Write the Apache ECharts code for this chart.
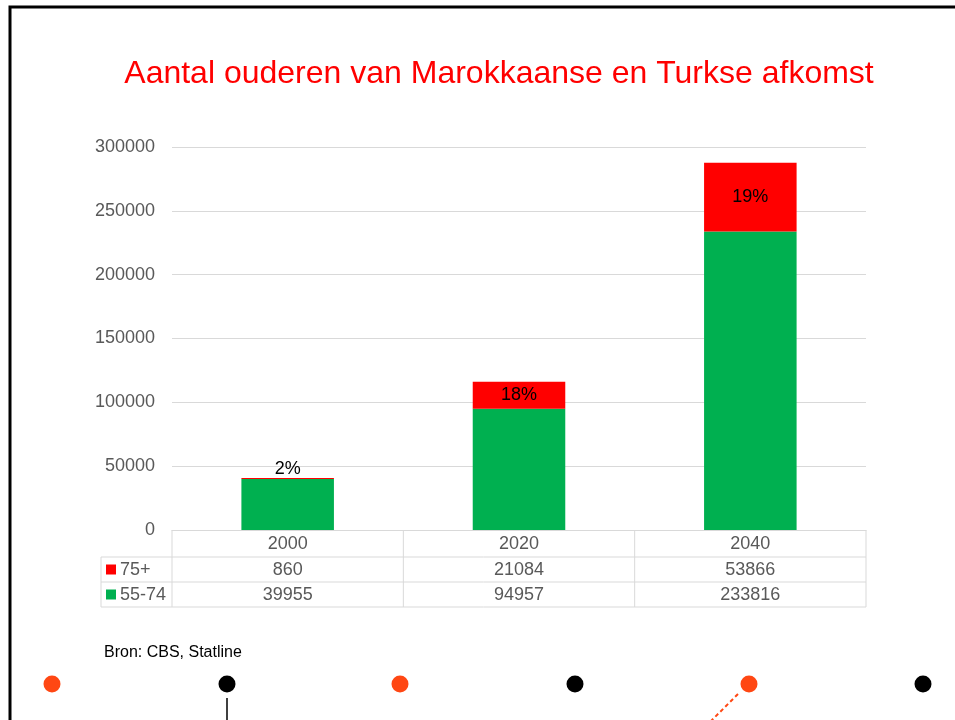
<!DOCTYPE html>
<html>
<head>
<meta charset="utf-8">
<script src="https://cdn.jsdelivr.net/npm/echarts@6/dist/echarts.min.js"></script>
<style>
  html, body { margin: 0; padding: 0; background: #fff; }
  #chart { width: 955px; height: 720px; }
</style>
</head>
<body>
<div id="chart"></div>
<script>
var years = ['2000', '2020', '2040'];
var old75 = [860, 21084, 53866];
var mid5574 = [39955, 94957, 233816];
var seriesNames = ['75+', '55-74'];
var yTicks = [0, 50000, 100000, 150000, 200000, 250000, 300000];

var font = 'Liberation Sans, Arial, sans-serif';
var gridLeft = 172, gridRight = 89, gridTop = 147, gridBottom = 190;

var pctData = old75.map(function (v, i) {
    var total = v + mid5574[i];
    var share = v / total;
    return {
        value: v,
        label: {
            position: share < 0.05 ? 'top' : 'inside',
            formatter: Math.round(share * 100) + '%'
        }
    };
});

var myChart = echarts.init(document.getElementById('chart'));
var option = {
    animation: false,
    title: {
        text: 'Aantal ouderen van Marokkaanse en Turkse afkomst',
        left: 494,
        textAlign: 'center',
        top: 53,
        textStyle: { color: '#ff0000', fontSize: 32, fontWeight: 'normal', fontFamily: font }
    },
    grid: { left: gridLeft, right: gridRight, top: gridTop, bottom: gridBottom },
    xAxis: {
        type: 'category',
        data: years,
        axisLine: { lineStyle: { color: '#d9d9d9' } },
        axisTick: { show: false },
        axisLabel: { show: false }
    },
    yAxis: {
        type: 'value',
        min: yTicks[0],
        max: yTicks[yTicks.length - 1],
        interval: 50000,
        axisLine: { show: false },
        axisTick: { show: false },
        axisLabel: { color: '#595959', fontSize: 18, fontFamily: font, margin: 17, formatter: function (v) { return String(v); } },
        splitLine: { lineStyle: { color: '#d9d9d9' } }
    },
    series: [
        {
            name: seriesNames[1],
            type: 'bar',
            stack: 'a',
            barWidth: '40%',
            itemStyle: { color: '#00b050' },
            data: mid5574
        },
        {
            name: seriesNames[0],
            type: 'bar',
            stack: 'a',
            barWidth: '40%',
            itemStyle: { color: '#ff0000' },
            label: { show: true, color: '#000', fontSize: 18, fontFamily: font, distance: 0 },
            data: pctData
        }
    ]
};
myChart.setOption(option);

// data table under the axis, built from the same arrays
var plotLeft = gridLeft, plotRight = 955 - gridRight;
var baseY = 720 - gridBottom;
var rowH = [27, 25, 25];
var legendLeft = 101;
var lineColor = '#d9d9d9';
var g = [];
function hline(x1, x2, y) {
    g.push({ type: 'line', shape: { x1: x1, y1: y, x2: x2, y2: y }, style: { stroke: lineColor, lineWidth: 1 } });
}
function vline(x, y1, y2) {
    g.push({ type: 'line', shape: { x1: x, y1: y1, x2: x, y2: y2 }, style: { stroke: lineColor, lineWidth: 1 } });
}
var y1 = baseY + rowH[0], y2 = y1 + rowH[1], y3 = y2 + rowH[2];
hline(legendLeft, plotRight, y1);
hline(legendLeft, plotRight, y2);
hline(legendLeft, plotRight, y3);
vline(legendLeft, y1, y3);
var colW = (plotRight - plotLeft) / years.length;
for (var c = 0; c <= years.length; c++) vline(plotLeft + c * colW, baseY, y3);

var rows = [old75, mid5574];
var rowColors = ['#ff0000', '#00b050'];
var rowTops = [y1, y2];
years.forEach(function (yr, i) {
    var cx = myChart.convertToPixel({ xAxisIndex: 0 }, yr);
    g.push({ type: 'text', style: { text: yr, x: cx, y: baseY + rowH[0] / 2 + 1, align: 'center', verticalAlign: 'middle', fill: '#595959', font: '18px ' + font } });
    rows.forEach(function (r, k) {
        g.push({ type: 'text', style: { text: String(r[i]), x: cx, y: rowTops[k] + rowH[k + 1] / 2 + 1, align: 'center', verticalAlign: 'middle', fill: '#595959', font: '18px ' + font } });
    });
});
seriesNames.forEach(function (n, k) {
    var cy = rowTops[k] + rowH[k + 1] / 2;
    g.push({ type: 'rect', shape: { x: 106, y: cy - 5, width: 10, height: 10 }, style: { fill: rowColors[k] } });
    g.push({ type: 'text', style: { text: n, x: 120, y: cy + 1, align: 'left', verticalAlign: 'middle', fill: '#595959', font: '18px ' + font } });
});

// frame, source line and decorative dots
g.push({ type: 'rect', shape: { x: 10, y: 7, width: 960, height: 730 }, style: { fill: null, stroke: '#000', lineWidth: 3 } });
g.push({ type: 'text', style: { text: 'Bron: CBS, Statline', x: 104, y: 653, verticalAlign: 'middle', fill: '#000', font: '16px ' + font } });
var dotX = [52, 227, 400, 575, 749, 923];
dotX.forEach(function (x, i) {
    g.push({ type: 'circle', shape: { cx: x, cy: 684, r: 8.5 }, style: { fill: i % 2 === 0 ? '#ff4713' : '#000' } });
});
g.push({ type: 'line', shape: { x1: 227, y1: 698, x2: 227, y2: 720 }, style: { stroke: '#000', lineWidth: 1.5 } });
g.push({ type: 'line', shape: { x1: 738, y1: 694, x2: 710, y2: 722 }, style: { stroke: '#ff4713', lineWidth: 2, lineDash: [4, 3] } });

myChart.setOption({ graphic: g });
</script>
</body>
</html>
